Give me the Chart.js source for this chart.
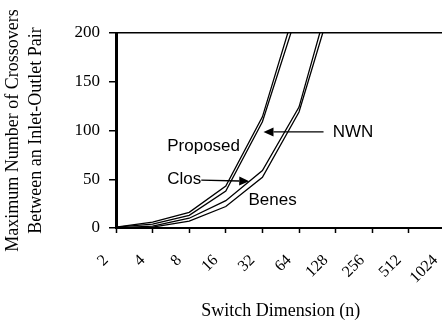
<!DOCTYPE html>
<html>
<head>
<meta charset="utf-8">
<script src="https://cdn.jsdelivr.net/npm/chart.js@4.4.1/dist/chart.umd.min.js"></script>
<style>
html,body{margin:0;padding:0;background:#fff;overflow:hidden;width:442px;height:323px;}
canvas{display:block;}
</style>
</head>
<body>
<canvas id="c" width="477" height="323" style="width:477px;height:323px"></canvas>
<script>
const categories = ['2','4','8','16','32','64','128','256','512','1024'];
const proposed = [1, 6, 16, 43, 114, 238, null, null, null, null];
const nwn      = [1, 4, 13, 38, 109, 226, null, null, null, null];
const clos     = [0, 2, 10, 28, 59, 124, 258, null, null, null];
const benes    = [0, 1, 7, 22, 52, 119, 244, null, null, null];
const yTicks = [0, 50, 100, 150, 200];

// annotation anchors in data units (category index, value)
const notes = [
  {text:'Proposed', x:1.40, y:79},
  {text:'Clos', x:1.40, y:45},
  {text:'Benes', x:3.62, y:23.6},
  {text:'NWN', x:5.92, y:93.3}
];
const arrows = [
  {from:[5.67, 98.5], to:[4.03, 98.5]},
  {from:[2.33, 49], to:[3.64, 48]}
];

const annot = {
  id:'annot',
  afterDatasetsDraw(chart){
    const ctx = chart.ctx, xs = chart.scales.x, ys = chart.scales.y;
    ctx.save();
    ctx.fillStyle = '#000';
    ctx.strokeStyle = '#000';
    ctx.font = '17px "Liberation Sans", Arial, sans-serif';
    ctx.textBaseline = 'alphabetic';
    ctx.textAlign = 'left';
    notes.forEach(n => ctx.fillText(n.text, xs.getPixelForValue(n.x), ys.getPixelForValue(n.y)));
    ctx.lineWidth = 1.3;
    arrows.forEach(a => {
      const x1 = xs.getPixelForValue(a.from[0]), y1 = ys.getPixelForValue(a.from[1]);
      const x2 = xs.getPixelForValue(a.to[0]), y2 = ys.getPixelForValue(a.to[1]);
      const ang = Math.atan2(y2 - y1, x2 - x1);
      const L = 10, W = 4.5;
      const bx = x2 - L*Math.cos(ang), by = y2 - L*Math.sin(ang);
      ctx.beginPath(); ctx.moveTo(x1, y1); ctx.lineTo(bx, by); ctx.stroke();
      ctx.beginPath();
      ctx.moveTo(x2, y2);
      ctx.lineTo(bx + W*Math.sin(ang), by - W*Math.cos(ang));
      ctx.lineTo(bx - W*Math.sin(ang), by + W*Math.cos(ang));
      ctx.closePath(); ctx.fill();
    });
    ctx.restore();
  }
};

const mk = (label, data) => ({label, data, borderColor:'#000', borderWidth:1.3, pointRadius:0, tension:0, fill:false, spanGaps:false});

new Chart(document.getElementById('c'), {
  type:'line',
  data:{ labels:categories, datasets:[mk('Proposed',proposed), mk('NWN',nwn), mk('Clos',clos), mk('Benes',benes)] },
  options:{
    responsive:false, animation:false,
    layout:{padding:{top:33, right:15, bottom:0, left:0}},
    plugins:{legend:{display:false}, tooltip:{enabled:false}},
    scales:{
      x:{
        type:'category', offset:false,
        grid:{drawOnChartArea:false, drawTicks:true, tickLength:5, tickColor:'#000', tickWidth:1.5},
        border:{display:true, color:'#000', width:2},
        ticks:{color:'#000', font:{family:'"Liberation Serif","Times New Roman",serif', size:16}, minRotation:45, maxRotation:45, autoSkip:false, padding:18, labelOffset:-10},
        title:{display:true, text:'Switch Dimension (n)', color:'#000', font:{family:'"Liberation Serif","Times New Roman",serif', size:18}, padding:{top:0,bottom:1}},
        afterFit(s){ s.height = 95; }
      },
      y:{
        min:0, max:200,
        afterBuildTicks(s){ s.ticks = yTicks.map(v => ({value:v})); },
        grid:{drawOnChartArea:true, drawTicks:true, tickLength:7, color:c => (c.tick && c.tick.value === 200) ? '#000' : 'rgba(0,0,0,0)', tickColor:'#000', lineWidth:1.5, tickWidth:1.5},
        border:{display:true, color:'#000', width:3},
        ticks:{color:'#000', font:{family:'"Liberation Serif","Times New Roman",serif', size:17}, padding:9},
        title:{display:true, text:['Maximum Number of Crossovers','Between an Inlet-Outlet Pair'], color:'#000', font:{family:'"Liberation Serif","Times New Roman",serif', size:18, lineHeight:1.28}, padding:{top:1.5,bottom:0}},
        afterFit(s){ s.width = 116; }
      }
    }
  },
  plugins:[annot]
});
</script>
</body>
</html>
